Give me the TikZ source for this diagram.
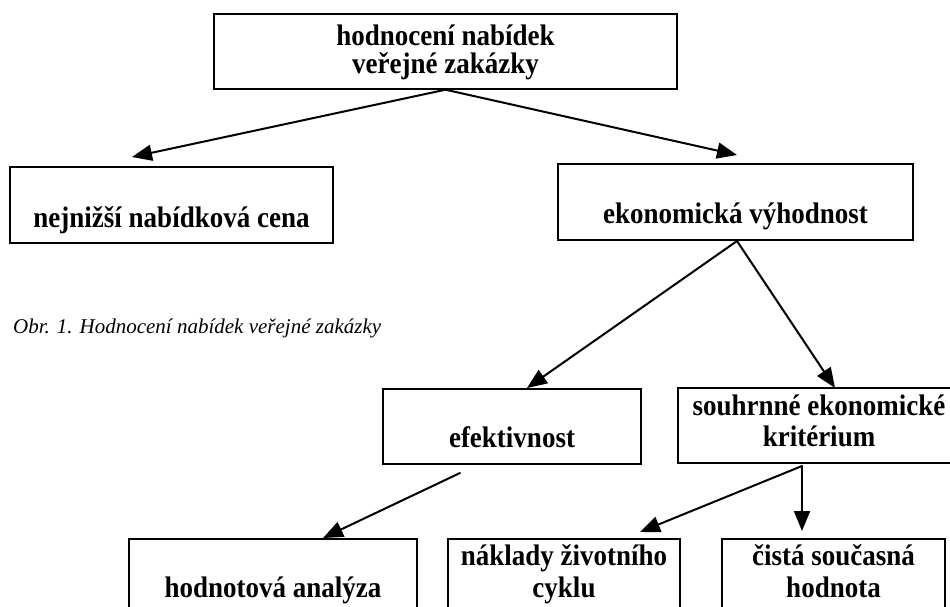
\documentclass[tikz,border=0pt]{standalone}
\usepackage{fontspec}
\usepackage{graphicx}
\setmainfont{Liberation Serif}
\usetikzlibrary{arrows.meta}
% box lettering: bold serif set slightly taller than normal
\newcommand{\tallbold}[1]{\scalebox{1}[1.1]{#1}}
\begin{document}
\begin{tikzpicture}[x=1pt,y=-1pt,
  box/.style={draw=black,line width=1.4pt,inner sep=0pt},
  boxtext/.style={anchor=base,inner sep=0pt,font=\bfseries\fontsize{27}{30}\selectfont},
  arrowlink/.style={line width=2pt,line cap=round,-{Triangle[length=20pt,width=16pt]}},
  ]
\useasboundingbox (0,0) rectangle (950,607);
\fill[white] (0,0) rectangle (950,607);
\clip (0,0) rectangle (950,607);

% boxes
\node[box,minimum width=463pt,minimum height=75pt] (top)   at (445.5,51.5) {};
\node[box,minimum width=323pt,minimum height=76pt] (low)   at (171.5,205)  {};
\node[box,minimum width=355pt,minimum height=76pt] (ekon)  at (735.5,202)  {};
\node[box,minimum width=258pt,minimum height=75pt] (efek)  at (512,426.5)  {};
\node[box,minimum width=282pt,minimum height=75pt] (souhr) at (819,425.5)  {};
\node[box,minimum width=288pt,minimum height=75pt] (hodn)  at (273,576.5)  {};
\node[box,minimum width=232pt,minimum height=75pt] (nakl)  at (564,576.5)  {};
\node[box,minimum width=223pt,minimum height=75pt] (cista) at (833.5,576.5) {};

% box texts
\node[boxtext] (topA) at (445.5,46) {\tallbold{hodnocení nabídek}};
\node[boxtext] (topB) at (445.5,74) {\tallbold{veřejné zakázky}};
\node[boxtext] (lowA) at (171.5,227) {\tallbold{nejnižší nabídková cena}};
\node[boxtext] (ekonA) at (735.5,223) {\tallbold{ekonomická výhodnost}};
\node[boxtext] (efekA) at (512,447) {\tallbold{efektivnost}};
\node[boxtext] (souhrA) at (819,415) {\tallbold{souhrnné ekonomické}};
\node[boxtext] (souhrB) at (819,446) {\tallbold{kritérium}};
\node[boxtext] (hodnA) at (273,597) {\tallbold{hodnotová analýza}};
\node[boxtext] (naklA) at (564,565) {\tallbold{náklady životního}};
\node[boxtext] (naklB) at (564,597) {\tallbold{cyklu}};
\node[boxtext] (cistaA) at (833.5,565) {\tallbold{čistá současná}};
\node[boxtext] (cistaB) at (833.5,597) {\tallbold{hodnota}};

% caption
\node[anchor=base west,inner sep=0pt,font=\itshape\fontsize{21}{24}\selectfont] (caption)
  at (13,333) {Obr. 1. Hodnocení nabídek veřejné zakázky};

% arrow ends
\coordinate (lowTip)   at (132,157);
\coordinate (ekonTip)  at (737,155);
\coordinate (efekTip)  at (527,388);
\coordinate (souhrTip) at (835,388);
\coordinate (efekOut)  at (460,473);
\coordinate (hodnTip)  at (323,538);
\coordinate (souhrOut) at (802,466);
\coordinate (naklTip)  at (640,532);
\coordinate (cistaTip) at (802,531);
\coordinate (ekonOut)  at (737,241);

% connectors
\draw[arrowlink] (top.south) -- (lowTip);
\draw[arrowlink] (top.south) -- (ekonTip);
\draw[arrowlink] (ekonOut) -- (efekTip);
\draw[arrowlink] (ekonOut) -- (souhrTip);
\draw[arrowlink] (efekOut) -- (hodnTip);
\draw[arrowlink] (souhrOut) -- (naklTip);
\draw[arrowlink] (souhrOut) -- (cistaTip);
\end{tikzpicture}
\end{document}
